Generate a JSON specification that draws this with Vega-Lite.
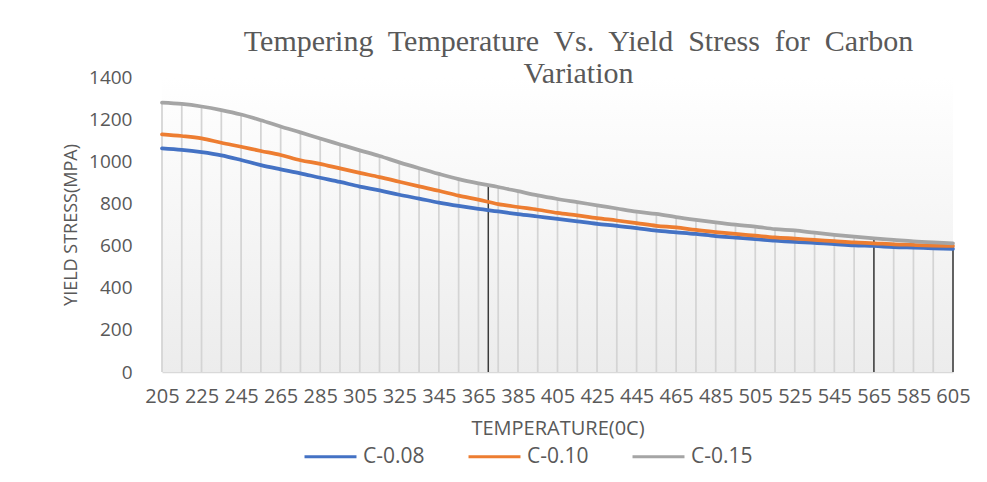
{
  "$schema": "https://vega.github.io/schema/vega-lite/v6.json",
  "width": 791,
  "height": 295,
  "autosize": "none",
  "padding": {"left": 162, "top": 77, "right": 34, "bottom": 110},
  "background": "#ffffff",
  "title": {
    "text": ["Tempering\u00a0 Temperature\u00a0 Vs.\u00a0 Yield\u00a0 Stress\u00a0 for\u00a0 Carbon", "Variation"],
    "font": "Liberation Serif",
    "fontSize": 30,
    "fontWeight": "normal",
    "color": "#595959",
    "anchor": "middle",
    "dx": 21,
    "offset": -21,
    "lineHeight": 32
  },
  "datasets": {
    "yield": [
      {"t": 205, "series": "C-0.08", "stress": 1061}, {"t": 215, "series": "C-0.08", "stress": 1054},
      {"t": 225, "series": "C-0.08", "stress": 1043}, {"t": 235, "series": "C-0.08", "stress": 1028},
      {"t": 245, "series": "C-0.08", "stress": 1006}, {"t": 255, "series": "C-0.08", "stress": 982},
      {"t": 265, "series": "C-0.08", "stress": 962}, {"t": 275, "series": "C-0.08", "stress": 943},
      {"t": 285, "series": "C-0.08", "stress": 922}, {"t": 295, "series": "C-0.08", "stress": 902},
      {"t": 305, "series": "C-0.08", "stress": 880}, {"t": 315, "series": "C-0.08", "stress": 862},
      {"t": 325, "series": "C-0.08", "stress": 841}, {"t": 335, "series": "C-0.08", "stress": 823},
      {"t": 345, "series": "C-0.08", "stress": 804}, {"t": 355, "series": "C-0.08", "stress": 788},
      {"t": 365, "series": "C-0.08", "stress": 774}, {"t": 375, "series": "C-0.08", "stress": 762},
      {"t": 385, "series": "C-0.08", "stress": 749}, {"t": 395, "series": "C-0.08", "stress": 738},
      {"t": 405, "series": "C-0.08", "stress": 727}, {"t": 415, "series": "C-0.08", "stress": 715},
      {"t": 425, "series": "C-0.08", "stress": 703}, {"t": 435, "series": "C-0.08", "stress": 694},
      {"t": 445, "series": "C-0.08", "stress": 683}, {"t": 455, "series": "C-0.08", "stress": 671},
      {"t": 465, "series": "C-0.08", "stress": 663}, {"t": 475, "series": "C-0.08", "stress": 655},
      {"t": 485, "series": "C-0.08", "stress": 645}, {"t": 495, "series": "C-0.08", "stress": 638},
      {"t": 505, "series": "C-0.08", "stress": 631}, {"t": 515, "series": "C-0.08", "stress": 623},
      {"t": 525, "series": "C-0.08", "stress": 617}, {"t": 535, "series": "C-0.08", "stress": 613},
      {"t": 545, "series": "C-0.08", "stress": 607}, {"t": 555, "series": "C-0.08", "stress": 601},
      {"t": 565, "series": "C-0.08", "stress": 598}, {"t": 575, "series": "C-0.08", "stress": 593},
      {"t": 585, "series": "C-0.08", "stress": 590}, {"t": 595, "series": "C-0.08", "stress": 587},
      {"t": 605, "series": "C-0.08", "stress": 584},

      {"t": 205, "series": "C-0.10", "stress": 1128}, {"t": 215, "series": "C-0.10", "stress": 1120},
      {"t": 225, "series": "C-0.10", "stress": 1109}, {"t": 235, "series": "C-0.10", "stress": 1088},
      {"t": 245, "series": "C-0.10", "stress": 1069}, {"t": 255, "series": "C-0.10", "stress": 1049},
      {"t": 265, "series": "C-0.10", "stress": 1030}, {"t": 275, "series": "C-0.10", "stress": 1005},
      {"t": 285, "series": "C-0.10", "stress": 988}, {"t": 295, "series": "C-0.10", "stress": 966},
      {"t": 305, "series": "C-0.10", "stress": 945}, {"t": 315, "series": "C-0.10", "stress": 925},
      {"t": 325, "series": "C-0.10", "stress": 903}, {"t": 335, "series": "C-0.10", "stress": 881},
      {"t": 345, "series": "C-0.10", "stress": 860}, {"t": 355, "series": "C-0.10", "stress": 837},
      {"t": 365, "series": "C-0.10", "stress": 818}, {"t": 375, "series": "C-0.10", "stress": 797},
      {"t": 385, "series": "C-0.10", "stress": 783}, {"t": 395, "series": "C-0.10", "stress": 770},
      {"t": 405, "series": "C-0.10", "stress": 755}, {"t": 415, "series": "C-0.10", "stress": 743},
      {"t": 425, "series": "C-0.10", "stress": 730}, {"t": 435, "series": "C-0.10", "stress": 719},
      {"t": 445, "series": "C-0.10", "stress": 707}, {"t": 455, "series": "C-0.10", "stress": 694},
      {"t": 465, "series": "C-0.10", "stress": 686}, {"t": 475, "series": "C-0.10", "stress": 674},
      {"t": 485, "series": "C-0.10", "stress": 664}, {"t": 495, "series": "C-0.10", "stress": 655},
      {"t": 505, "series": "C-0.10", "stress": 647}, {"t": 515, "series": "C-0.10", "stress": 639},
      {"t": 525, "series": "C-0.10", "stress": 633}, {"t": 535, "series": "C-0.10", "stress": 627},
      {"t": 545, "series": "C-0.10", "stress": 621}, {"t": 555, "series": "C-0.10", "stress": 615},
      {"t": 565, "series": "C-0.10", "stress": 611}, {"t": 575, "series": "C-0.10", "stress": 606},
      {"t": 585, "series": "C-0.10", "stress": 603}, {"t": 595, "series": "C-0.10", "stress": 600},
      {"t": 605, "series": "C-0.10", "stress": 598},

      {"t": 205, "series": "C-0.15", "stress": 1278}, {"t": 215, "series": "C-0.15", "stress": 1272},
      {"t": 225, "series": "C-0.15", "stress": 1260}, {"t": 235, "series": "C-0.15", "stress": 1243},
      {"t": 245, "series": "C-0.15", "stress": 1222}, {"t": 255, "series": "C-0.15", "stress": 1195},
      {"t": 265, "series": "C-0.15", "stress": 1165}, {"t": 275, "series": "C-0.15", "stress": 1137},
      {"t": 285, "series": "C-0.15", "stress": 1108}, {"t": 295, "series": "C-0.15", "stress": 1080},
      {"t": 305, "series": "C-0.15", "stress": 1052}, {"t": 315, "series": "C-0.15", "stress": 1025},
      {"t": 325, "series": "C-0.15", "stress": 995}, {"t": 335, "series": "C-0.15", "stress": 967},
      {"t": 345, "series": "C-0.15", "stress": 940}, {"t": 355, "series": "C-0.15", "stress": 915},
      {"t": 365, "series": "C-0.15", "stress": 895}, {"t": 375, "series": "C-0.15", "stress": 878},
      {"t": 385, "series": "C-0.15", "stress": 858}, {"t": 395, "series": "C-0.15", "stress": 838},
      {"t": 405, "series": "C-0.15", "stress": 821}, {"t": 415, "series": "C-0.15", "stress": 806},
      {"t": 425, "series": "C-0.15", "stress": 791}, {"t": 435, "series": "C-0.15", "stress": 776},
      {"t": 445, "series": "C-0.15", "stress": 761}, {"t": 455, "series": "C-0.15", "stress": 750},
      {"t": 465, "series": "C-0.15", "stress": 735}, {"t": 475, "series": "C-0.15", "stress": 722},
      {"t": 485, "series": "C-0.15", "stress": 710}, {"t": 495, "series": "C-0.15", "stress": 699},
      {"t": 505, "series": "C-0.15", "stress": 690}, {"t": 515, "series": "C-0.15", "stress": 678},
      {"t": 525, "series": "C-0.15", "stress": 672}, {"t": 535, "series": "C-0.15", "stress": 661},
      {"t": 545, "series": "C-0.15", "stress": 651}, {"t": 555, "series": "C-0.15", "stress": 642},
      {"t": 565, "series": "C-0.15", "stress": 634}, {"t": 575, "series": "C-0.15", "stress": 627},
      {"t": 585, "series": "C-0.15", "stress": 620}, {"t": 595, "series": "C-0.15", "stress": 615},
      {"t": 605, "series": "C-0.15", "stress": 611}
    ],
    "markers": [
      {"t": 370, "stress": 890},
      {"t": 565, "stress": 634},
      {"t": 605, "stress": 611}
    ],
    "plotArea": [
      {"t": 205, "t_end": 605, "stress": 0, "stress_end": 1400}
    ]
  },
  "encoding": {
    "x": {
      "field": "t",
      "type": "quantitative",
      "scale": {"domain": [205, 605], "nice": false, "zero": false},
      "axis": {
        "title": "TEMPERATURE(0C)",
        "values": [205, 225, 245, 265, 285, 305, 325, 345, 365, 385, 405, 425, 445, 465, 485, 505, 525, 545, 565, 585, 605],
        "format": "d",
        "labelFontSize": 20,
        "labelPadding": 14,
        "labelFlush": false,
        "labelOverlap": false,
        "labelSeparation": 0,
        "labelBound": false,
        "ticks": false,
        "grid": false,
        "domain": true,
        "domainColor": "#d9d9d9",
        "domainWidth": 1.5,
        "titleFontSize": 20,
        "titlePadding": 12
      }
    },
    "y": {
      "field": "stress",
      "type": "quantitative",
      "scale": {"domain": [0, 1400], "nice": false},
      "axis": {
        "title": "YIELD STRESS(MPA)",
        "values": [0, 200, 400, 600, 800, 1000, 1200, 1400],
        "format": "d",
        "labelFontSize": 19,
        "labelPadding": 30,
        "ticks": false,
        "grid": false,
        "domain": false,
        "titleFontSize": 18,
        "titlePadding": 8
      }
    }
  },
  "layer": [
    {
      "data": {"name": "plotArea"},
      "mark": {
        "type": "rect",
        "color": {
          "gradient": "linear",
          "x1": 0, "y1": 0, "x2": 0, "y2": 1,
          "stops": [
            {"offset": 0, "color": "#ffffff"},
            {"offset": 1, "color": "#ececec"}
          ]
        }
      },
      "encoding": {
        "x2": {"field": "t_end"},
        "y2": {"field": "stress_end"}
      }
    },
    {
      "data": {"name": "yield"},
      "transform": [{"filter": "datum.series === 'C-0.15'"}],
      "mark": {"type": "rule", "color": "#d4d4d4", "strokeWidth": 1.75},
      "encoding": {
        "y2": {"datum": 0}
      }
    },
    {
      "data": {"name": "markers"},
      "mark": {"type": "rule", "color": "#3a3a3a", "strokeWidth": 1.5},
      "encoding": {
        "y2": {"datum": 0}
      }
    },
    {
      "data": {"name": "yield"},
      "mark": {"type": "line", "strokeWidth": 3.75, "interpolate": "monotone", "strokeCap": "round"},
      "encoding": {
        "color": {
          "field": "series",
          "type": "nominal",
          "scale": {
            "domain": ["C-0.08", "C-0.10", "C-0.15"],
            "range": ["#4472c4", "#ed7d31", "#a5a5a5"]
          },
          "legend": {
            "title": null,
            "orient": "none",
            "direction": "horizontal",
            "legendX": 141,
            "legendY": 352,
            "symbolType": "stroke",
            "symbolSize": 2700,
            "symbolStrokeWidth": 3,
            "labelFontSize": 21,
            "labelOffset": 5,
            "columnPadding": 37
          }
        }
      }
    }
  ],
  "config": {
    "view": {"stroke": null},
    "axis": {
      "labelFont": "Open Sans",
      "labelColor": "#595959",
      "labelOverlap": false,
      "titleFont": "Open Sans",
      "titleFontWeight": "normal",
      "titleColor": "#595959"
    },
    "legend": {
      "labelFont": "Open Sans",
      "labelColor": "#595959"
    }
  }
}
